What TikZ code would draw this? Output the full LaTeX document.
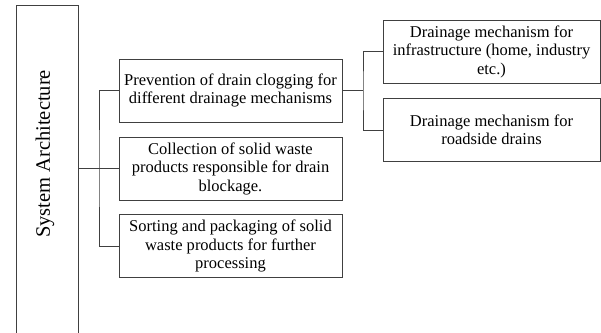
\documentclass[tikz,border=0pt]{standalone}
\usepackage{fontspec}
\setmainfont{Liberation Serif}
\usepackage{xcolor}
\usetikzlibrary{positioning}

\definecolor{edgegray}{HTML}{404040}

\tikzset{
	archbox/.style={draw=edgegray, line width=0.8pt, minimum width=223pt, minimum height=63pt,
		inner sep=1pt, align=center, font=\fontsize{16.5}{18.5}\selectfont},
	subbox/.style={archbox, minimum width=217pt},
	link/.style={draw=edgegray, line width=0.8pt}
}

\begin{document}
\begin{tikzpicture}[x=1pt, y=-1pt]
	\useasboundingbox (0,0) rectangle (601,332);
	\clip (0,0) rectangle (601,332);
	% left column
	\node[draw=edgegray, line width=0.8pt, minimum width=62pt, minimum height=334pt] (sys) at (47,172) {};
	\node[rotate=90, font=\fontsize{20.5}{24}\selectfont] (systitle) at (45,154) {System Architecture};
	% middle column
	\node[archbox] (prev) at (230.5,90.5) {Prevention of drain clogging for\\different drainage mechanisms};
	\node[archbox] (coll) at (230.5,168.5) {Collection of solid waste\\products responsible for drain\\blockage.};
	\node[archbox] (sort) at (230.5,246) {Sorting and packaging of solid\\waste products for further\\processing};
	% right column
	\node[subbox] (infra) at (491.5,51.5) {Drainage mechanism for\\infrastructure (home, industry\\etc.)};
	\node[subbox] (road) at (491.5,130) {Drainage mechanism for\\roadside drains};
	% connectors
	\coordinate (busL) at (99,168.5);
	\coordinate (busR) at (363,90.5);
	\draw[link] (sys.east |- coll) -- (coll.west);
	\draw[link] (prev.west) -| (busL) |- (sort.west);
	\draw[link] (prev.east) -- (busR);
	\draw[link] (infra.west) -| (busR) |- (road.west);
\end{tikzpicture}
\end{document}
